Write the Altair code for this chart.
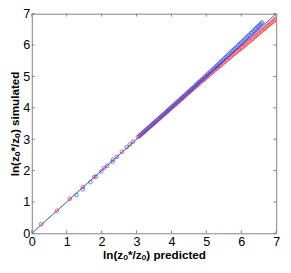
import altair as alt
import pandas as pd

# Red series (circles)
red_x = [0.27, 0.72, 1.09, 1.46, 1.79, 2.07, 2.33, 2.58, 2.81, 3.04,
         3.10, 3.15, 3.20, 3.25, 3.30, 3.36, 3.41, 3.46, 3.50, 3.55, 3.60, 3.66, 3.71, 3.76, 3.81,
         3.86, 3.90, 3.95, 4.00, 4.05, 4.10, 4.15, 4.20, 4.25, 4.30, 4.34, 4.39, 4.44, 4.49,
         4.54, 4.58, 4.63, 4.68, 4.73, 4.77, 4.82, 4.87, 4.92, 4.96, 5.01, 5.05,
         5.10, 5.15, 5.20, 5.24, 5.29, 5.33, 5.38, 5.42, 5.47, 5.52, 5.57, 5.61, 5.66, 5.70,
         5.75, 5.79, 5.84, 5.88, 5.93, 5.97, 6.02, 6.06, 6.11, 6.15, 6.20, 6.24, 6.29, 6.33,
         6.38, 6.42, 6.47, 6.51, 6.56, 6.60, 6.65, 6.69, 6.74, 6.78, 6.83, 6.87,
         6.92, 6.96, 7.00]
red_y = [0.29, 0.72, 1.10, 1.48, 1.79, 2.08, 2.35, 2.60, 2.83, 3.07,
         3.12, 3.17, 3.22, 3.27, 3.32, 3.37, 3.42, 3.47, 3.51, 3.56, 3.61, 3.66, 3.71, 3.76, 3.81,
         3.86, 3.90, 3.95, 4.00, 4.05, 4.09, 4.14, 4.19, 4.24, 4.29, 4.33, 4.38, 4.43, 4.48,
         4.53, 4.57, 4.62, 4.66, 4.71, 4.75, 4.80, 4.85, 4.89, 4.93, 4.98, 5.02,
         5.07, 5.11, 5.16, 5.20, 5.25, 5.29, 5.33, 5.37, 5.42, 5.46, 5.51, 5.55, 5.59, 5.63,
         5.68, 5.72, 5.76, 5.80, 5.84, 5.88, 5.92, 5.96, 6.00, 6.04, 6.09, 6.13, 6.17, 6.21,
         6.26, 6.30, 6.34, 6.38, 6.43, 6.47, 6.51, 6.55, 6.60, 6.64, 6.68, 6.72,
         6.76, 6.80, 6.84]

# Blue series (circles)
blue_x = [1.28, 1.46, 1.68, 1.84, 1.99, 2.16, 2.31, 2.44, 2.72, 2.90,
          3.08, 3.13, 3.18, 3.23, 3.28, 3.33, 3.38, 3.43, 3.48, 3.53, 3.58, 3.63, 3.68, 3.73,
          3.78, 3.83, 3.88, 3.93, 3.98, 4.03, 4.08, 4.13, 4.18, 4.23, 4.28, 4.33, 4.38, 4.43,
          4.48, 4.52, 4.57, 4.61, 4.66, 4.70, 4.75, 4.79, 4.84, 4.88, 4.93, 4.97,
          5.02, 5.06, 5.11, 5.15, 5.20, 5.24, 5.28, 5.32, 5.36, 5.40, 5.44, 5.48, 5.52, 5.56,
          5.60, 5.64, 5.68, 5.72, 5.76, 5.80, 5.84, 5.88, 5.92, 5.96, 6.00, 6.04, 6.08, 6.12,
          6.16, 6.20, 6.24, 6.28, 6.32, 6.36, 6.40, 6.43, 6.47, 6.50, 6.54, 6.57, 6.60]
blue_y = [1.22, 1.40, 1.63, 1.81, 1.97, 2.15, 2.28, 2.44, 2.75, 2.92,
          3.10, 3.15, 3.20, 3.25, 3.30, 3.35, 3.40, 3.45, 3.50, 3.55, 3.60, 3.65, 3.70, 3.75,
          3.80, 3.85, 3.90, 3.95, 4.00, 4.05, 4.10, 4.15, 4.20, 4.25, 4.30, 4.35, 4.40, 4.45,
          4.50, 4.54, 4.59, 4.63, 4.68, 4.73, 4.78, 4.82, 4.87, 4.91, 4.96, 5.00,
          5.05, 5.10, 5.15, 5.19, 5.24, 5.28, 5.32, 5.36, 5.41, 5.45, 5.49, 5.53, 5.58, 5.62,
          5.66, 5.70, 5.74, 5.79, 5.83, 5.87, 5.91, 5.95, 6.00, 6.04, 6.08, 6.12, 6.17, 6.21,
          6.25, 6.29, 6.33, 6.38, 6.42, 6.46, 6.50, 6.54, 6.58, 6.61, 6.65, 6.69, 6.72]

# 1:1 reference line
line_x = [0, 7]
line_y = [0, 7]

tick_values = [0, 1, 2, 3, 4, 5, 6, 7]

W, H = 251.5, 226
RED = "#ff1a1a"
BLUE = "#2546ff"
FRAME = "#7f7f7f"
FONT = "Liberation Sans"

xs = alt.Scale(domain=[0, 7], nice=False, zero=False)
ys = alt.Scale(domain=[0, 7], nice=False, zero=False)

x_axis = alt.Axis(values=tick_values, format="d", ticks=False, domain=False,
                  grid=False, labelPadding=3, labelFontSize=13, labelFont=FONT,
                  labelColor="#000000", labelOverlap=False, labelFlush=False,
                  title="ln(zₒ*/zₒ) predicted", titleFont=FONT, titleFontSize=12,
                  titleFontWeight="bold", titleColor="#000000",
                  titleBaseline="middle", titleY=22, titleX=W / 2)
y_axis = alt.Axis(values=tick_values, format="d", ticks=False, domain=False,
                  grid=False, labelPadding=2, labelFontSize=13, labelFont=FONT,
                  labelColor="#000000", labelOverlap=False, labelFlush=False,
                  title="ln(zₒ*/zₒ) simulated", titleFont=FONT, titleFontSize=12,
                  titleFontWeight="bold", titleColor="#000000", titleAngle=270,
                  titleBaseline="middle", titleX=-18, titleY=H / 2)

line_df = pd.DataFrame({"x": line_x, "y": line_y})
red_df = pd.DataFrame({"x": red_x, "y": red_y})
blue_df = pd.DataFrame({"x": blue_x, "y": blue_y})
ticks_df = pd.DataFrame({"v": tick_values})

base_line = alt.Chart(line_df).mark_line(color=BLUE, strokeWidth=1, clip=True).encode(
    x=alt.X("x:Q", scale=xs, axis=x_axis),
    y=alt.Y("y:Q", scale=ys, axis=y_axis),
)

red_pts = alt.Chart(red_df).mark_point(shape="circle", filled=False, color=RED,
                                       size=14, strokeWidth=1, clip=True).encode(
    x=alt.X("x:Q", scale=xs, axis=x_axis), y=alt.Y("y:Q", scale=ys, axis=y_axis))

blue_pts = alt.Chart(blue_df).mark_point(shape="circle", filled=False, color=BLUE,
                                         size=14, strokeWidth=1, clip=True).encode(
    x=alt.X("x:Q", scale=xs, axis=x_axis), y=alt.Y("y:Q", scale=ys, axis=y_axis))

tick_len = 3
bottom_ticks = alt.Chart(ticks_df).mark_rule(color=FRAME, strokeWidth=1).encode(
    x=alt.X("v:Q", scale=xs, axis=x_axis), y=alt.value(H), y2=alt.value(H - tick_len))
top_ticks = alt.Chart(ticks_df).mark_rule(color=FRAME, strokeWidth=1).encode(
    x=alt.X("v:Q", scale=xs, axis=x_axis), y=alt.value(0), y2=alt.value(tick_len))
left_ticks = alt.Chart(ticks_df).mark_rule(color=FRAME, strokeWidth=1).encode(
    y=alt.Y("v:Q", scale=ys, axis=y_axis), x=alt.value(0), x2=alt.value(tick_len))
right_ticks = alt.Chart(ticks_df).mark_rule(color=FRAME, strokeWidth=1).encode(
    y=alt.Y("v:Q", scale=ys, axis=y_axis), x=alt.value(W), x2=alt.value(W - tick_len))

chart = alt.layer(
    base_line,
    bottom_ticks, top_ticks, left_ticks, right_ticks,
    red_pts, blue_pts,
).properties(
    width=W, height=H,
    autosize=alt.AutoSizeParams(type="none"),
    padding={"left": 24.5, "top": 2, "right": 7, "bottom": 37},
    background="#ffffff",
).configure_view(stroke=FRAME, strokeWidth=1).configure_axis(labelOverlap=False)

chart.save("out.html", embed_options={"renderer": "svg", "actions": False})
